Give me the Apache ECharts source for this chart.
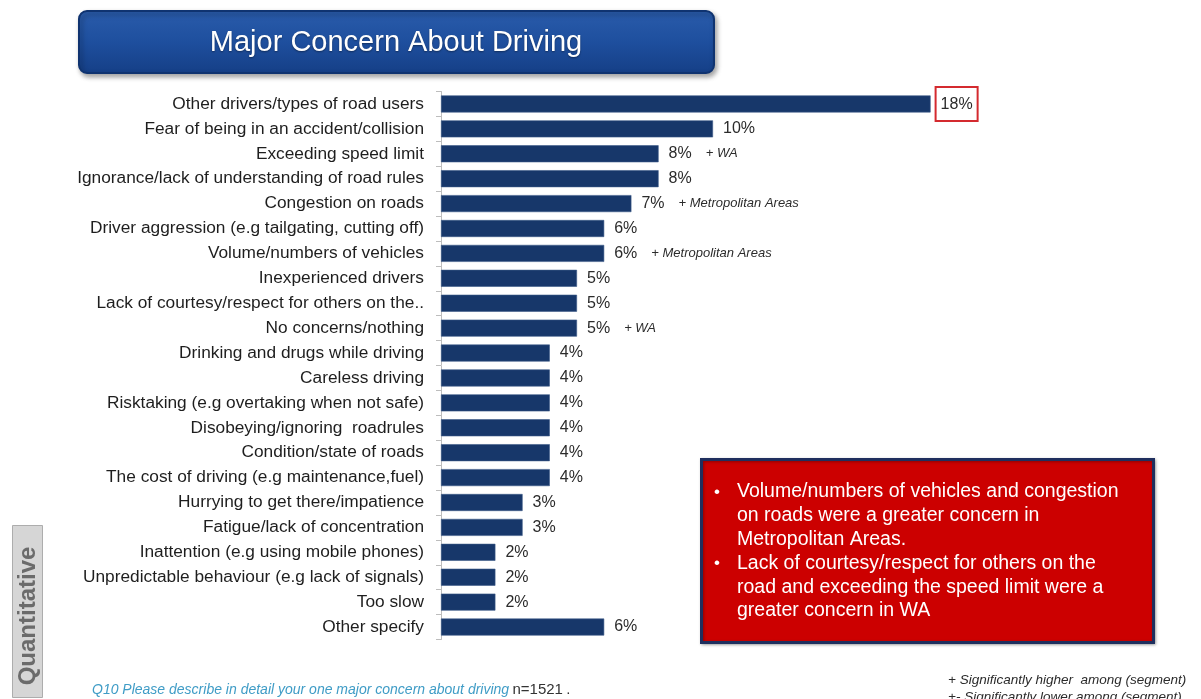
<!DOCTYPE html>
<html>
<head>
<meta charset="utf-8">
<script src="https://cdn.jsdelivr.net/npm/echarts@6/dist/echarts.min.js"></script>
<style>
  html, body { margin: 0; padding: 0; background: #ffffff; }
  #chart { width: 1201px; height: 699px; }
</style>
</head>
<body>
<div id="chart"></div>
<script>
// Survey responses: single major concern about driving (% of respondents)
const categories = [
  'Other drivers/types of road users',
  'Fear of being in an accident/collision',
  'Exceeding speed limit',
  'Ignorance/lack of understanding of road rules',
  'Congestion on roads',
  'Driver aggression (e.g tailgating, cutting off)',
  'Volume/numbers of vehicles',
  'Inexperienced drivers',
  'Lack of courtesy/respect for others on the..',
  'No concerns/nothing',
  'Drinking and drugs while driving',
  'Careless driving',
  'Risktaking (e.g overtaking when not safe)',
  'Disobeying/ignoring  roadrules',
  'Condition/state of roads',
  'The cost of driving (e.g maintenance,fuel)',
  'Hurrying to get there/impatience',
  'Fatigue/lack of concentration',
  'Inattention (e.g using mobile phones)',
  'Unpredictable behaviour (e.g lack of signals)',
  'Too slow',
  'Other specify'
];
const percents = [18, 10, 8, 8, 7, 6, 6, 5, 5, 5, 4, 4, 4, 4, 4, 4, 3, 3, 2, 2, 2, 6];
// Segment significance notes shown after the value
const segmentNotes = ['', '', '+ WA', '', '+ Metropolitan Areas', '', '+ Metropolitan Areas', '', '', '+ WA',
  '', '', '', '', '', '', '', '', '', '', '', ''];
const highlightIndex = 0;

const titleText = 'Major Concern About Driving';
const summaryLines = [
  ['•', 'Volume/numbers of vehicles and congestion'],
  ['', 'on roads were a greater concern in'],
  ['', 'Metropolitan Areas.'],
  ['•', 'Lack of courtesy/respect for others on the'],
  ['', 'road and exceeding the speed limit were a'],
  ['', 'greater concern in WA']
];
const questionText = 'Q10 Please describe in detail your one major concern about driving';
const sampleText = 'n=1521';
const legendNotes = ['+ Significantly higher  among (segment)', '+- Significantly lower among (segment)'];

const FONT = 'Arial, "Liberation Sans", sans-serif';

const chart = echarts.init(document.getElementById('chart'), null, { renderer: 'canvas' });

const barData = percents.map((v, i) => i === highlightIndex
  ? { value: v, label: { distance: 5 } }
  : { value: v });

// Call-out text lines (bullets + wrapped text)
const summaryGraphics = [];
summaryLines.forEach((ln, i) => {
  const y = 492 + i * 23.8;
  if (ln[0]) {
    summaryGraphics.push({
      type: 'text', x: 714, y: y, z: 12,
      style: { text: ln[0], fill: '#ffffff', font: '17px ' + FONT, verticalAlign: 'middle' }
    });
  }
  summaryGraphics.push({
    type: 'text', x: 737, y: y, z: 12,
    style: { text: ln[1], fill: '#ffffff', font: '19.5px ' + FONT, verticalAlign: 'middle' }
  });
});

const option = {
  backgroundColor: '#ffffff',
  animation: false,
  grid: { left: 441, top: 91.5, width: 544, height: 548, containLabel: false, outerBoundsMode: 'none' },
  xAxis: { type: 'value', min: 0, max: 20, show: false },
  yAxis: {
    type: 'category',
    data: categories,
    inverse: true,
    axisLine: { show: true, lineStyle: { color: '#bdbdbd', width: 1 } },
    axisTick: { show: true, length: 5, lineStyle: { color: '#bdbdbd' } },
    splitLine: { show: false },
    axisLabel: {
      interval: 0, margin: 17, fontSize: 17.3, color: '#1e1e1e', fontFamily: FONT
    }
  },
  series: [{
    type: 'bar',
    data: barData,
    barWidth: 17,
    itemStyle: { color: '#17376a', borderColor: '#3d5b88', borderWidth: 0.6 },
    label: {
      show: true,
      position: 'right',
      distance: 10,
      fontFamily: FONT,
      formatter: p => {
        const i = p.dataIndex;
        let s = (i === highlightIndex ? '{hl|' : '{v|') + p.value + '%}';
        if (segmentNotes[i]) s += '{n|' + segmentNotes[i] + '}';
        return s;
      },
      rich: {
        v: { fontSize: 16, color: '#2b2b2b', fontFamily: FONT },
        hl: { fontSize: 16, color: '#2b2b2b', fontFamily: FONT, borderColor: '#d42a2f', borderWidth: 2, padding: [10, 5, 8, 5] },
        n: { fontSize: 13, fontStyle: 'italic', color: '#2b2b2b', fontFamily: FONT, padding: [0, 0, 0, 14] }
      }
    }
  }],
  graphic: [
    // Title banner
    {
      type: 'rect', left: 78, top: 10, z: 10,
      shape: { width: 635, height: 62, r: 8 },
      style: {
        fill: new echarts.graphic.LinearGradient(0, 0, 0, 1, [
          { offset: 0, color: '#2a5cab' },
          { offset: 0.5, color: '#1e4f9e' },
          { offset: 1, color: '#153f86' }
        ]),
        stroke: '#0f3370', lineWidth: 2,
        shadowBlur: 5, shadowOffsetX: 2, shadowOffsetY: 3, shadowColor: 'rgba(0,0,0,0.35)'
      }
    },
    {
      type: 'text', x: 396, y: 43, z: 11,
      style: {
        text: titleText, fill: '#ffffff', font: '29px ' + FONT, align: 'center', verticalAlign: 'middle',
        textShadowColor: 'rgba(0,0,0,0.4)', textShadowBlur: 2, textShadowOffsetY: 1
      }
    },
    // Summary call-out
    {
      type: 'rect', left: 700, top: 458, z: 10,
      shape: { width: 452, height: 183 },
      style: { fill: '#cc0000', stroke: '#1f2f5e', lineWidth: 3,
        shadowBlur: 3, shadowOffsetX: 1, shadowOffsetY: 1, shadowColor: 'rgba(0,0,0,0.3)' }
    }
  ].concat(summaryGraphics).concat([
    // Side tab
    {
      type: 'rect', left: 12, top: 525, z: 10,
      shape: { width: 30, height: 172 },
      style: { fill: '#d6d6d6', stroke: '#adadad', lineWidth: 1 }
    },
    {
      type: 'text', z: 11, x: 28, y: 616, rotation: Math.PI / 2,
      style: { text: 'Quantitative', fill: '#6b6b6b', font: 'bold 24px ' + FONT, align: 'center', verticalAlign: 'middle' }
    },
    // Question footnote
    {
      type: 'text', x: 92, y: 690, z: 11,
      style: {
        text: '{q|' + questionText + '} {n|' + sampleText + '} {n|.}',
        verticalAlign: 'middle',
        rich: {
          q: { fontSize: 14, fontStyle: 'italic', fill: '#3f9cc6', fontFamily: FONT },
          n: { fontSize: 15, fill: '#333333', fontFamily: FONT }
        }
      }
    },
    // Significance legend
    {
      type: 'text', x: 948, y: 680, z: 11,
      style: { text: legendNotes[0], fill: '#2b2b2b', font: 'italic 13.5px ' + FONT, verticalAlign: 'middle' }
    },
    {
      type: 'text', x: 948, y: 697, z: 11,
      style: { text: legendNotes[1], fill: '#2b2b2b', font: 'italic 13.5px ' + FONT, verticalAlign: 'middle' }
    }
  ])
};

chart.setOption(option);
</script>
</body>
</html>
